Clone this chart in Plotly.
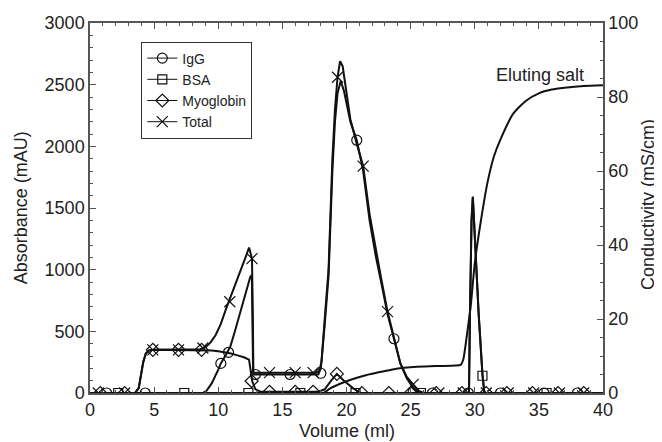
import plotly.graph_objects as go

# ---------------- data ----------------
total_x = [0, 3.5, 3.8, 3.95, 4.15, 4.35, 4.6, 5.0, 8.6, 9.0, 9.4, 9.8, 10.2, 10.6, 10.9, 11.3,
           11.7, 12.0, 12.2, 12.4, 12.63, 12.7, 12.74, 13.5, 17.5, 17.85, 18.05, 18.3, 18.6, 18.9,
           19.1, 19.3, 19.5, 19.7, 20.0, 20.3, 20.8, 21.3, 21.8, 22.3, 22.7, 23.2, 23.7, 24.2,
           24.7, 25.2, 25.6, 26.0, 29.55, 29.62, 29.75, 29.85, 30.0, 30.3, 30.6, 30.75, 40]
total_y = [0, 0, 40, 130, 250, 320, 345, 350, 355, 370, 410, 470, 560, 680, 760, 870,
           975, 1060, 1120, 1180, 1090, 600, 165, 165, 165, 175, 250, 600, 1000, 1900,
           2300, 2560, 2690, 2650, 2450, 2220, 2020, 1840, 1450, 1150, 930, 660, 440, 240,
           130, 70, 20, 0, 0, 600, 1400, 1590, 1250, 650, 150, 0, 0]

igg_x = [0, 8.8, 9.1, 9.5, 10.0, 10.2, 10.6, 10.94, 11.3, 11.7, 12.1, 12.5, 12.62, 12.72,
         17.8, 18.0, 18.3, 18.6, 18.9, 19.1, 19.3, 19.55, 19.8, 20.3, 20.8, 21.3, 21.8, 22.3,
         22.7, 23.2, 23.7, 24.2, 24.7, 25.2, 25.6, 26.0, 40]
igg_y = [0, 0, 20, 80, 190, 240, 310, 376, 500, 646, 800, 943, 955, 150,
         150, 200, 550, 950, 1800, 2200, 2430, 2530, 2450, 2200, 2050, 1800, 1400, 1100,
         900, 640, 440, 240, 120, 40, 10, 0, 0]

bsa_x = [0, 29.55, 29.62, 29.75, 29.85, 30.0, 30.3, 30.6, 30.75, 40]
bsa_y = [0, 0, 600, 1400, 1590, 1250, 650, 150, 0, 0]

myo_x = [0, 3.5, 3.8, 3.95, 4.15, 4.35, 4.6, 5.0, 9.0, 9.5, 10.0, 10.5, 11.0, 11.5, 12.0,
         12.4, 12.55, 12.65, 12.9, 13.3, 17.8, 18.3, 18.8, 19.25, 19.8, 20.5, 21.1, 40]
myo_y = [0, 0, 40, 130, 250, 320, 345, 350, 350, 345, 338, 330, 320, 305, 290,
         270, 150, 95, 30, 10, 10, 30, 100, 155, 100, 40, 0, 0]

salt_x = [0, 18.2, 18.7, 19.5, 20.5, 21.5, 22.5, 23.5, 24.5, 25.5, 27.0, 28.5, 28.9, 29.1,
          29.4, 29.7, 30.0, 30.5, 31.0, 31.5, 32.0, 33.0, 34.0, 35.0, 36.0, 37.0, 38.5, 40]
salt_y = [0, 0, 1.2, 2.5, 3.8, 4.8, 5.6, 6.3, 6.8, 7.1, 7.3, 7.4, 7.6, 9,
          16, 24, 35, 47, 57, 64, 68.5, 75.5, 79, 81, 82, 82.5, 83, 83.2]

# marker (sample) points
igg_mx = [1.3, 4.3, 10.2, 10.8, 12.9, 15.6, 18.0, 20.8, 23.7, 25.2, 26.7, 29.5, 32.0, 35.4, 38.0]
igg_my = [0, 0, 240, 330, 150, 150, 160, 2050, 440, 10, 0, 0, 0, 0, 0]

bsa_mx = [2.2, 7.35, 12.35, 16.4, 20.7, 25.8, 30.6, 35.6]
bsa_my = [0, 0, 0, 0, 0, 0, 140, 0]

myo_mx = [0.8, 2.7, 4.9, 6.9, 8.7, 12.6, 14.0, 16.0, 17.4, 19.25, 21.2, 23.3, 25.0, 27.0,
          29.0, 30.9, 32.5, 34.5, 36.5, 38.5]
myo_my = [0, 0, 350, 350, 350, 97, 10, 10, 10, 155, 0, 0, 0, 0,
          0, 0, 0, 0, 0, 0]

total_mx = [0.65, 2.7, 4.9, 6.9, 8.8, 10.9, 12.63, 14.0, 16.0, 17.4, 19.3, 21.3, 23.2, 25.2,
            27.2, 29.1, 30.9, 32.6, 34.6, 36.6, 38.5]
total_my = [0, 0, 350, 350, 365, 740, 1090, 165, 165, 165, 2560, 1840, 660, 70,
            0, 0, 0, 0, 0, 0, 0]

series_names = ["IgG", "BSA", "Myoglobin", "Total"]
x_ticks = [0, 5, 10, 15, 20, 25, 30, 35, 40]
y_ticks = [0, 500, 1000, 1500, 2000, 2500, 3000]
y2_ticks = [0, 20, 40, 60, 80, 100]

# ---------------- figure ----------------
BLACK = "#111111"
TXT = "#222222"
FONT = "Liberation Sans, Arial, sans-serif"
fig = go.Figure()

line_sets = [(igg_x, igg_y), (bsa_x, bsa_y), (myo_x, myo_y), (total_x, total_y)]
mark_sets = [(igg_mx, igg_my), (bsa_mx, bsa_my), (myo_mx, myo_my), (total_mx, total_my)]
symbols = ["circle-open", "square-open", "diamond-open", "x-thin-open"]
sizes = [10, 9, 10, 11]

for (lx, ly) in line_sets:
    fig.add_trace(go.Scatter(x=lx, y=ly, mode="lines", showlegend=False,
                             line=dict(color=BLACK, width=2), hoverinfo="skip"))

fig.add_trace(go.Scatter(x=salt_x, y=salt_y, mode="lines", showlegend=False, yaxis="y2",
                         line=dict(color=BLACK, width=2, shape="spline", smoothing=0.6)))

for (mx, my), sym, sz in zip(mark_sets, symbols, sizes):
    fig.add_trace(go.Scatter(x=mx, y=my, mode="markers", showlegend=False,
                             marker=dict(symbol=sym, size=sz, color=BLACK,
                                         line=dict(color=BLACK, width=1.2))))

for name, sym, sz in zip(series_names, symbols, sizes):
    fig.add_trace(go.Scatter(x=[None], y=[None], mode="lines+markers", name=name,
                             line=dict(color=BLACK, width=1),
                             marker=dict(symbol=sym, size=sz, color=BLACK,
                                         line=dict(color=BLACK, width=1.2))))

AX = "#555555"
# the page body adds an 8px offset, so the figure is 8px smaller and margins compensate
fig.update_layout(
    width=654, height=434,
    margin=dict(l=82, r=59, t=15, b=49, autoexpand=False),
    paper_bgcolor="white", plot_bgcolor="white",
    font=dict(family=FONT, size=18, color=TXT),
    xaxis=dict(range=[0, 40], tickvals=x_ticks, ticks="inside", ticklen=6, tickcolor=AX,
               showline=True, linecolor=AX, linewidth=1.5, mirror="ticks", showgrid=False,
               zeroline=False, minor=dict(dtick=1, ticks="inside", ticklen=3, tickcolor=AX),
               automargin=False, ticklabelstandoff=0),
    yaxis=dict(range=[0, 3000], tickvals=y_ticks, ticks="inside", ticklen=6, tickcolor=AX,
               showline=True, linecolor=AX, linewidth=1.5, showgrid=False, zeroline=False,
               minor=dict(dtick=100, ticks="inside", ticklen=3, tickcolor=AX),
               automargin=False),
    yaxis2=dict(range=[0, 100], tickvals=y2_ticks, ticks="inside", ticklen=6, tickcolor=AX,
                overlaying="y", side="right", showline=True, linecolor=AX, linewidth=1.5,
                showgrid=False, zeroline=False, automargin=False,
                minor=dict(dtick=5, ticks="inside", ticklen=3, tickcolor=AX)),
    legend=dict(x=0.1, y=0.95, xanchor="left", yanchor="top", bgcolor="white",
                bordercolor="#333333", borderwidth=1, font=dict(size=14, family=FONT),
                itemwidth=30, tracegroupgap=0),
    showlegend=True,
    annotations=[
        dict(x=35.1, y=86, xref="x", yref="y2", text="Eluting salt",
             showarrow=False, font=dict(size=18, family=FONT, color=TXT)),
        dict(x=0.5, y=-0.103, xref="paper", yref="paper", text="Volume (ml)",
             showarrow=False, xanchor="center", yanchor="middle",
             font=dict(size=18, family=FONT, color=TXT)),
        dict(x=-0.134, y=0.5, xref="paper", yref="paper", text="Absorbance (mAU)",
             showarrow=False, xanchor="center", yanchor="middle", textangle=-90,
             font=dict(size=18, family=FONT, color=TXT)),
        dict(x=1.089, y=0.51, xref="paper", yref="paper", text="Conductivity (mS/cm)",
             showarrow=False, xanchor="center", yanchor="middle", textangle=-90,
             font=dict(size=18, family=FONT, color=TXT)),
    ],
)

fig.write_html("out.html")
